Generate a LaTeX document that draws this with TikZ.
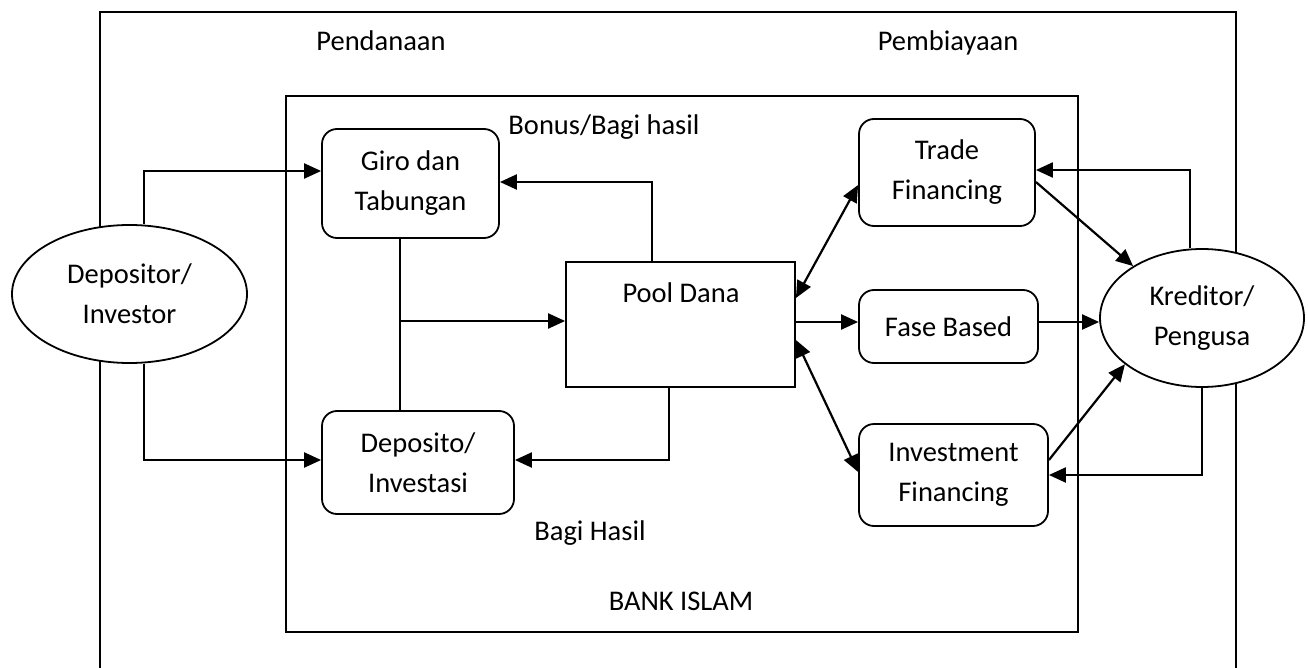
\documentclass[tikz,border=0pt]{standalone}
\usepackage{fontspec}
\setmainfont{Carlito}
\usetikzlibrary{arrows.meta,shapes.geometric}
\tikzset{
  txt/.style={font=\fontsize{28.5}{40}\selectfont, align=center, inner sep=0pt},
  rbox/.style={txt, draw, line width=1.8pt, rounded corners=15pt, fill=white},
  sbox/.style={draw, line width=1.8pt, fill=white, inner sep=0pt},
  ell/.style={txt, draw, ellipse, line width=1.8pt, fill=white},
  frame/.style={line width=1.8pt},
  arr/.style={line width=2.2pt, -{Triangle[length=17pt,width=15pt]}},
  darr/.style={line width=2.2pt, {Triangle[length=17pt,width=15pt]}-{Triangle[length=17pt,width=15pt]}},
  plain/.style={line width=1.8pt}
}
\begin{document}
\begin{tikzpicture}[x=1pt,y=-1pt]
\useasboundingbox (0,0) rectangle (1308,668);
% frames
\draw[frame] (100,668) -- (100,12) -- (1236,12) -- (1236,668);
\draw[frame] (286,96) rectangle (1078,632);
% nodes
\node[ell, minimum width=235pt, minimum height=138pt] (dep) at (129.5,294) {Depositor/\\Investor};
\node[ell, minimum width=204pt, minimum height=138pt] (kred) at (1202,318) {Kreditor/\\Pengusa};
\node[rbox, minimum width=177pt, minimum height=109pt] (giro) at (410.5,183.5) {Giro dan\\Tabungan};
\node[rbox, minimum width=192pt, minimum height=103pt] (depo) at (418,462.5) {Deposito/\\Investasi};
\node[sbox, minimum width=229pt, minimum height=125pt] (pool) at (680.5,324.5) {};
\node[txt] (pooltxt) at (681,293) {Pool Dana};
\node[rbox, minimum width=176pt, minimum height=107pt] (trade) at (947,172.5) {Trade\\Financing};
\node[rbox, minimum width=179pt, minimum height=73pt] (fase) at (948.5,326.5) {Fase Based};
\node[rbox, minimum width=189pt, minimum height=102pt] (invest) at (953.5,475) {Investment\\Financing};
% labels
\node[txt, anchor=base] (pendanaan) at (381,51) {Pendanaan};
\node[txt, anchor=base] (pembiayaan) at (948,51) {Pembiayaan};
\node[txt] (bonus) at (604,127) {Bonus/Bagi hasil};
\node[txt] (bagihasil) at (590,533) {Bagi Hasil};
\node[txt] (bank) at (681,601) {BANK ISLAM};
% connectors
\draw[arr] ([xshift=14.5pt]dep.north) |- (giro.west |- 0,171);
\draw[arr] ([xshift=14.5pt]dep.south) |- (depo.west |- 0,460);
\draw[arr] (pool.north -| 652,0) |- (giro.east |- 0,182);
\draw[arr] (pool.south -| 669,0) |- (depo.east |- 0,460);
\draw[plain] (giro.south -| 400,0) -- (depo.north -| 400,0);
\coordinate (j) at (400,321);
\draw[arr] (j) -- (pool.west |- j);
\draw[darr] (pool.east |- 0,298) -- (trade.west |- 0,185);
\draw[darr] (pool.east |- 0,340) -- (invest.west |- 0,472);
\draw[arr] (pool.east |- 0,322) -- (fase.west |- 0,322);
\draw[arr] (fase.east |- 0,322) -- (kred.west |- 0,322);
\draw[arr] (trade.east |- 0,182) -- (kred.143);
\draw[arr] (invest.east |- 0,460) -- (kred.211);
\draw[arr] ([xshift=-12pt]kred.north) |- (trade.east |- 0,170);
\draw[arr] (kred.south) |- (invest.east);
\end{tikzpicture}
\end{document}
